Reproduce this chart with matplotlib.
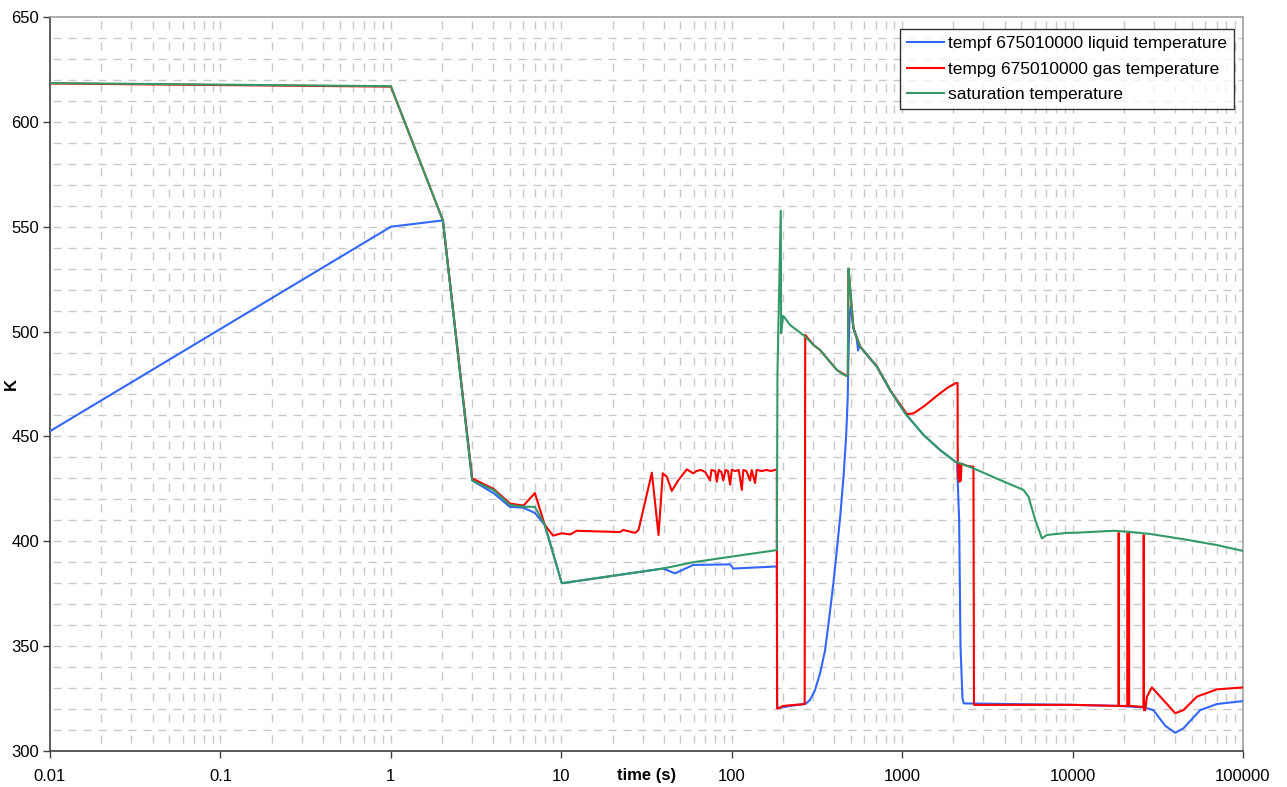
import matplotlib
matplotlib.use("Agg")
import matplotlib.pyplot as plt
from matplotlib.ticker import FixedLocator, NullFormatter

# ---------------- data ----------------
liq_t = [0.01, 1, 2.02, 3, 4, 5, 6, 7, 8, 10.07, 39.5, 46.5, 59.4, 98, 102, 184,
         185, 190, 220, 270, 288, 308, 330, 353, 374, 395, 414, 433, 453, 469, 479, 485, 491,
         500, 518, 540, 552, 560, 567, 711, 851, 1042, 1335, 1671, 2048, 2100, 2160, 2200,
         2260, 2300, 10000, 18600, 26100, 29800, 35000, 40000, 44700, 56100, 70300, 100000]
liq_T = [452.5, 550, 553, 429, 423, 416.4, 416, 413.5, 407.8, 380, 387, 384.7, 388.7, 389, 387, 388,
         321, 320.5, 321.5, 322.4, 324.3, 329, 337.1, 348, 364, 380, 395.9, 411.7, 430.8, 449.9, 467.4, 491.2, 507,
         512, 501.6, 497, 491, 494, 492.8, 483.3, 472, 461, 450.7, 443.5, 438, 437.5, 410, 350,
         325, 322.7, 322, 321.5, 320.8, 319.5, 312, 308.7, 310.8, 319.5, 322.4, 323.8]

gas_t = [0.01, 1, 2.02, 3, 4, 5, 6, 7, 8, 8.95, 10.07, 11.3, 12.3, 22.1, 23.1, 27.1, 28.4,
         34, 37.2, 39.4, 41.6, 44.5, 48.7, 54.5, 59.5, 62, 66, 70, 74.6, 76, 80, 81.7, 84,
         87, 89.3, 92, 95, 97.9, 100, 105, 110, 114.6, 117, 122, 128, 131, 137, 140, 150,
         160, 170, 184, 184.5, 190, 200, 220, 268, 270, 302, 330, 369, 414, 474, 480, 484, 495, 518,
         567, 711, 851, 1067, 1165, 1335, 1493, 1671, 1870, 2048, 2115, 2120, 2130, 2150, 2170, 2190, 2210,
         2230, 2400, 2620, 2640, 10000, 18600, 18650, 18700, 21000, 21050, 21100, 21400,
         21450, 21500, 26100, 26150, 26200, 26700, 27300, 29200, 34100, 40000, 44700,
         53600, 70300, 100000]
gas_T = [618.3, 616.8, 553, 430, 425, 418, 417, 423, 407.8, 402.7, 403.8, 403.3, 405, 404.4, 405.4, 404, 405.4,
         432.7, 403, 432.4, 430.8, 424, 429.2, 434.3, 432.4, 433.5, 434, 433, 429, 434, 433.5, 428.4, 434,
         433, 429, 434, 433.5, 427, 434, 433.5, 434, 424.5, 434, 433.5, 429, 434, 427.8, 434, 433.5,
         434, 433.5, 434.3, 320.3, 320.5, 321.5, 321.8, 322.4, 498.4, 493.6, 491.2, 486.5, 481.7, 478.8, 479, 530, 521, 501.6,
         492.8, 483.3, 472, 460.6, 461, 464.2, 467.4, 470.6, 473.5, 475.3, 475.5, 437.5, 430, 437, 428.4, 437, 429,
         437, 436, 435.5, 322, 322, 321.5, 404, 321.5, 321.5, 403.8, 321.5, 321.5,
         403.8, 321.5, 321, 403, 319.5, 319.5, 325.9, 330.3, 324.3, 318, 319.5,
         325.9, 329.4, 330.3]

sat_t = [0.01, 1, 2.02, 3, 4, 5, 6, 7, 8, 10.07, 39.5, 59.4, 98, 184, 185.5, 194, 195,
         199.5, 203, 220, 240, 270, 302, 330, 369, 414, 450, 474, 480, 484, 495, 518, 567, 711, 851, 1042,
         1335, 1671, 2048, 2622, 3760, 5150, 5510, 6040, 6610, 7070, 9250, 10600, 17400,
         20800, 28500, 44700, 70300, 100000]
sat_T = [618.5, 617, 553, 429, 424.5, 417.3, 416.5, 416.4, 407.8, 380, 387, 390, 392.6, 395.8, 480, 557.6, 499.2,
         507.4, 507, 503.1, 500.8, 497.6, 493.6, 491.2, 486.5, 481.7, 479.6, 478.8, 479, 530, 521, 501.6, 492.8, 483.3, 472, 461,
         450.7, 443.5, 438, 434.8, 429.2, 424.5, 421.3, 410.2, 401.4, 403, 404, 404.1, 405,
         404.6, 403.5, 401, 398.2, 395.4]

labels = ["tempf 675010000 liquid temperature",
          "tempg 675010000 gas temperature",
          "saturation temperature"]
colors = ["#3366ff", "#ff0000", "#339966"]

x_ticks = [0.01, 0.1, 1, 10, 100, 1000, 10000, 100000]
x_ticklabels = ["0.01", "0.1", "1", "10", "100", "1000", "10000", "100000"]
y_ticks = [300, 350, 400, 450, 500, 550, 600, 650]
y_grid = list(range(310, 650, 10))
x_grid = [m * 10.0 ** d for d in range(-2, 5) for m in range(1, 10)][1:]

# ---------------- figure ----------------
plt.rcParams['font.family'] = ['Liberation Sans', 'DejaVu Sans']
fig = plt.figure(figsize=(12.87, 7.87), dpi=100)
ax = fig.add_axes([50 / 1287, 1 - 751 / 787, 1193 / 1287, 734 / 787])

ax.set_xscale('log')
ax.set_xlim(0.01, 100000)
ax.set_ylim(300, 650)

PX = 0.72  # points per pixel at 100 dpi
grid_color = "#c8c8c8"
for yv in y_grid:
    ax.axhline(yv, color=grid_color, lw=1.0,
               linestyle=(12 * PX, (8 * PX, 7 * PX)), zorder=0)
for xv in x_grid:
    ax.axvline(xv, color=grid_color, lw=1.0,
               linestyle=(13 * PX, (8 * PX, 13 * PX)), zorder=0)

ax.plot(liq_t, liq_T, color=colors[0], lw=1.5, label=labels[0], zorder=3)
ax.plot(gas_t, gas_T, color=colors[1], lw=1.5, label=labels[1], zorder=4)
ax.plot(sat_t, sat_T, color=colors[2], lw=1.5, label=labels[2], zorder=5)

ax.xaxis.set_major_locator(FixedLocator(x_ticks))
ax.xaxis.set_minor_locator(FixedLocator([]))
ax.set_xticks(x_ticks)
ax.set_xticklabels(x_ticklabels)
ax.xaxis.set_minor_formatter(NullFormatter())
ax.set_yticks(y_ticks)
ax.tick_params(axis='both', which='major', labelsize=12, length=5, width=1,
               color="#404040", direction='out')
ax.tick_params(axis='x', pad=8)
ax.tick_params(axis='y', pad=3)
ax.tick_params(which='minor', length=0)

for s in ['left', 'bottom']:
    ax.spines[s].set_color("#404040")
    ax.spines[s].set_linewidth(1.2)
for s in ['top', 'right']:
    ax.spines[s].set_color("#a0a0a0")
    ax.spines[s].set_linewidth(1.2)

ax.set_xlabel("time (s)", fontsize=12, fontweight='bold')
ax.xaxis.set_label_coords(0.5, -0.023)
ax.set_ylabel("K", fontsize=12, fontweight='bold')
ax.yaxis.set_label_coords(-0.026, 0.5)

leg = ax.legend(loc='upper right', bbox_to_anchor=(1 - 9 / 1193, 1 - 12 / 734),
                borderaxespad=0, fontsize=12.5, frameon=True, fancybox=False,
                handlelength=2.1, handletextpad=0.25, borderpad=0.4, labelspacing=0.6)
leg.get_frame().set_edgecolor("black")
leg.get_frame().set_linewidth(1.0)

fig.savefig("out.png", dpi=100)
